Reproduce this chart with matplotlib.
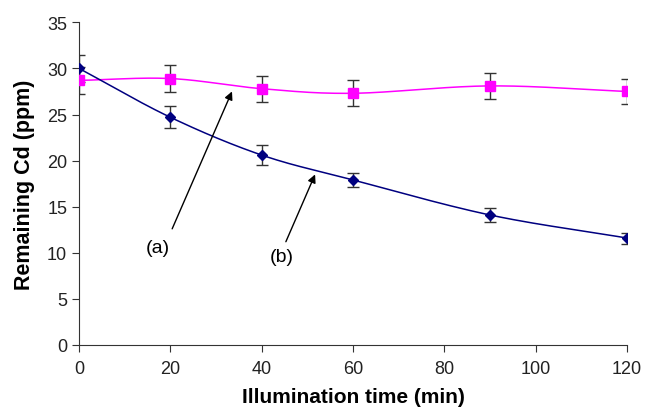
"""Remaining Cd vs illumination time, two series with error bars."""

import matplotlib
matplotlib.use("Agg")
import matplotlib.pyplot as plt
import numpy as np

plt.rcParams["font.family"] = ["Liberation Sans", "DejaVu Sans"]

time_min = [0, 20, 40, 60, 90, 120]
cd_a = [28.7, 28.9, 27.8, 27.3, 28.1, 27.5]
err_a = [1.5, 1.45, 1.4, 1.4, 1.4, 1.4]
cd_b = [30.0, 24.7, 20.6, 17.9, 14.1, 11.6]
err_b = [1.5, 1.2, 1.05, 0.8, 0.75, 0.6]


def smooth(xs, ys, n=30):
    # Catmull-Rom through the points, like a spreadsheet "smoothed line"
    xs = np.asarray(xs, float)
    ys = np.asarray(ys, float)
    px = np.concatenate([[2 * xs[0] - xs[1]], xs, [2 * xs[-1] - xs[-2]]])
    py = np.concatenate([[2 * ys[0] - ys[1]], ys, [2 * ys[-1] - ys[-2]]])
    out_x, out_y = [], []
    t = np.linspace(0, 1, n)
    for i in range(1, len(px) - 2):
        for p, out in ((px, out_x), (py, out_y)):
            p0, p1, p2, p3 = p[i - 1], p[i], p[i + 1], p[i + 2]
            out.extend(0.5 * ((2 * p1) + (-p0 + p2) * t
                              + (2 * p0 - 5 * p1 + 4 * p2 - p3) * t ** 2
                              + (-p0 + 3 * p1 - 3 * p2 + p3) * t ** 3))
    return out_x, out_y


fig = plt.figure(figsize=(6.46, 4.14), dpi=100)
ax = fig.add_axes([0.1223, 0.1643, 0.8483, 0.7794])

for ys, errs, color, marker, ms in [
    (cd_a, err_a, "#FF00FF", "s", 7),
    (cd_b, err_b, "#000080", "D", 5.5),
]:
    sx, sy = smooth(time_min, ys)
    ax.plot(sx, sy, color=color, lw=1.1, zorder=2)
    ax.errorbar(time_min, ys, yerr=errs, fmt="none", ecolor="#333333",
                elinewidth=1, capsize=4, capthick=1, zorder=3)
    ax.plot(time_min, ys, linestyle="none", marker=marker, color=color,
            markersize=ms, zorder=4)

arrow = dict(arrowstyle="-|>", color="black", lw=1, mutation_scale=12,
             shrinkA=0, shrinkB=0)
ax.annotate("", xy=(33.5, 27.5), xytext=(20.4, 12.6), arrowprops=arrow)
ax.annotate("", xy=(51.7, 18.5), xytext=(45.3, 11.2), arrowprops=arrow)
ax.text(17.2, 10.6, "(a)", fontsize=14, ha="center", va="center")
ax.text(44.5, 9.65, "(b)", fontsize=14, ha="center", va="center")

ax.set_xlim(0, 120)
ax.set_ylim(0, 35)
ax.set_xticks(range(0, 121, 20))
ax.set_yticks(range(0, 36, 5))
ax.spines[["top", "right"]].set_visible(False)
for side in ("left", "bottom"):
    ax.spines[side].set_color("#333333")
ax.tick_params(direction="out", length=5, color="#333333", labelsize=13,
               labelcolor="#222222")
ax.tick_params(axis="x", pad=6)
ax.set_xlabel("Illumination time (min)", fontsize=15, fontweight="bold", labelpad=7)
ax.set_ylabel("Remaining Cd (ppm)", fontsize=15.5, fontweight="bold", labelpad=9)

fig.savefig("out.png", dpi=100)
